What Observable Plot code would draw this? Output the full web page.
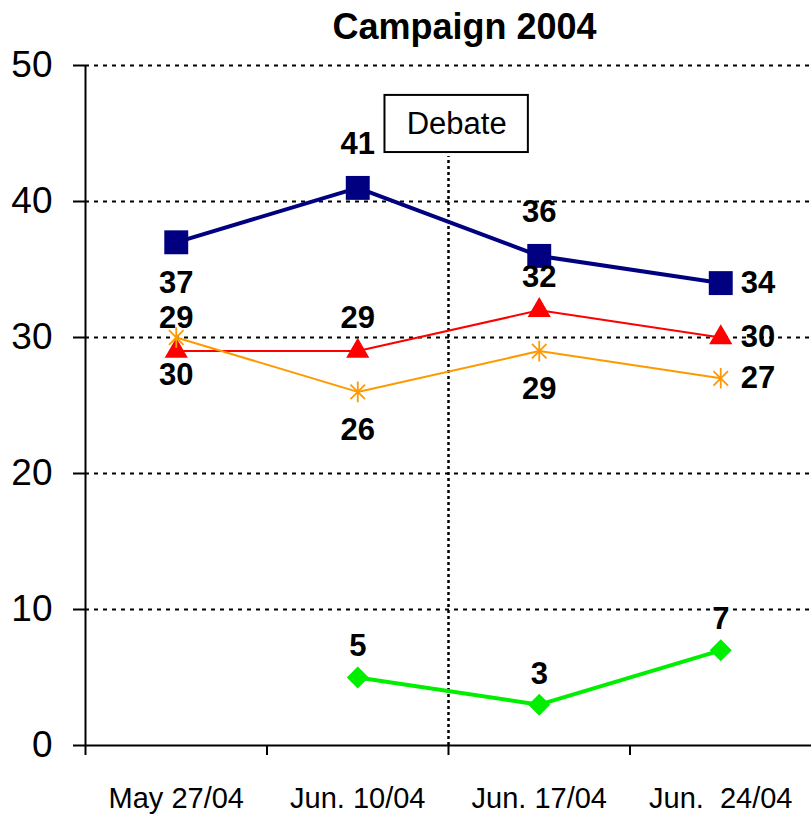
<!DOCTYPE html>
<html>
<head>
<meta charset="utf-8">
<script src="https://cdn.jsdelivr.net/npm/d3@7"></script>
<script src="https://cdn.jsdelivr.net/npm/@observablehq/plot@0.6"></script>
<style>
  html, body { margin: 0; padding: 0; background: white; }
  svg text { white-space: pre; }
</style>
</head>
<body>
<div id="chart"></div>
<script>
// ---- data ----
const title = "Campaign 2004";
const dates = ["May 27/04", "Jun. 10/04", "Jun. 17/04", "Jun.  24/04"];
const yTicks = [0, 10, 20, 30, 40, 50];
const blueValues   = [37, 41, 36, 34];
const redValues    = [29, 29, 32, 30];
const orangeValues = [30, 26, 29, 27];
const greenValues  = [null, 5, 3, 7];
// where each value label sits relative to its point
const bluePlacement   = ["below", "above", "above", "right"];
const redPlacement    = ["above", "above", "above", "right"];
const orangePlacement = ["below", "below", "below", "right"];
const greenPlacement  = ["above", "above", "above", "above"];
// debate annotation: between Jun. 10 and Jun. 17
const debate = [{label: "Debate", index: 1.5}];

// Excel-like star marker: vertical bar plus an X
const excelStar = {
  draw(context, size) {
    const r = Math.sqrt(size / Math.PI) * 1.05;
    const d = r * Math.SQRT1_2;
    context.moveTo(0, -r); context.lineTo(0, r);
    context.moveTo(-d, -d); context.lineTo(d, d);
    context.moveTo(-d, d); context.lineTo(d, -d);
  }
};

// ---- styles ----
const series = [
  {name: "blue",   values: blueValues,   place: bluePlacement,   color: "#000080", width: 4, symbol: "square",   r: 13.5, above: 44, below: 41},
  {name: "red",    values: redValues,    place: redPlacement,    color: "#ff0000", width: 2, symbol: "triangle", r: 8.6,  above: 33, below: 35},
  {name: "orange", values: orangeValues, place: orangePlacement, color: "#ff9900", width: 2, symbol: excelStar,  r: 9.8,  above: 33, below: 38},
  {name: "green",  values: greenValues,  place: greenPlacement,  color: "#00ee00", width: 4, symbol: "diamond2", r: 9.9,  above: 31, below: 31}
];

const font = "'Liberation Sans', Arial, Helvetica, sans-serif";
const labelSize = 31;
const marks = [
  Plot.ruleY(yTicks.filter(d => d > 0), {stroke: "black", strokeWidth: 2, strokeDasharray: "4,5"}),
  Plot.ruleX(debate, {x: "index", y1: 0, y2: 43.3, stroke: "black", strokeWidth: 2.5, strokeDasharray: "3,3"}),
  Plot.rect(debate, {x1: d => d.index - 0.35, x2: d => d.index + 0.44, y1: 43.6, y2: 47.8, fill: "white", stroke: "black", strokeWidth: 2}),
  Plot.text(debate, {x: d => d.index + 0.045, y: 45.7, text: "label", fontSize: 31, fill: "black"})
];
const labelMarks = [];
for (const s of series) {
  const data = s.values.map((v, i) => ({i, value: v, place: s.place[i]})).filter(d => d.value != null);
  marks.push(Plot.line(data, {x: "i", y: "value", stroke: s.color, strokeWidth: s.width}));
  if (s.symbol === excelStar) {
    marks.push(Plot.dot(data, {x: "i", y: "value", symbol: s.symbol, r: s.r, fill: "none", stroke: s.color, strokeWidth: 1.8}));
  } else {
    marks.push(Plot.dot(data, {x: "i", y: "value", symbol: s.symbol, r: s.r, fill: s.color, stroke: "none"}));
  }
  const common = {x: "i", y: "value", text: d => String(d.value), fontSize: labelSize, fontWeight: "bold", fill: "black"};
  labelMarks.push(
    Plot.text(data.filter(d => d.place === "above"), {...common, dy: -s.above, textAnchor: "middle"}),
    Plot.text(data.filter(d => d.place === "below"), {...common, dy: s.below, textAnchor: "middle"}),
    Plot.text(data.filter(d => d.place === "right"), {...common, dx: 20, textAnchor: "start"})
  );
}
marks.push(
  ...labelMarks,
  // axes
  Plot.ruleX([-0.5], {stroke: "black", strokeWidth: 2}),
  Plot.ruleY([0], {stroke: "black", strokeWidth: 2}),
  Plot.axisY(yTicks, {tickSize: 12, tickPadding: 21, fontSize: 37, strokeWidth: 2, stroke: "black", fill: "black", tickFormat: d => String(d), label: null}),
  Plot.axisX([-0.5, 0.5, 1.5, 2.5], {tickSize: 10, strokeWidth: 2, stroke: "black", tickFormat: () => "", label: null}),
  Plot.axisX([0, 1, 2, 3], {tickSize: 0, tickPadding: 42, fontSize: 29, fill: "black", tickFormat: i => dates[i], label: null}),
  Plot.text([title], {frameAnchor: "top", lineAnchor: "middle", dx: 16, dy: -38, fontSize: 36, fontWeight: "bold", fill: "black"})
);

const chart = Plot.plot({
  width: 811,
  height: 814,
  marginLeft: 85,
  marginRight: 0,
  marginTop: 65,
  marginBottom: 69,
  x: {domain: [-0.5, 3.5], axis: null, label: null},
  y: {domain: [0, 50], axis: null, label: null},
  style: {fontFamily: font, background: "white", color: "black", overflow: "visible"},
  marks
});
document.getElementById("chart").appendChild(chart);
</script>
</body>
</html>
